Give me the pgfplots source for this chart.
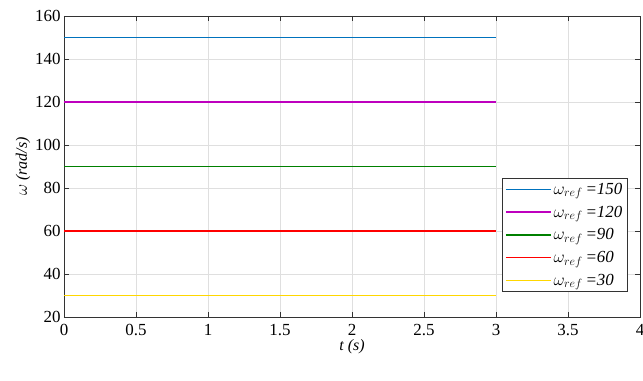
\documentclass[border=0pt]{standalone}
\usepackage{fontspec}
\setmainfont{Liberation Serif}
\usepackage{pgfplots}
\pgfplotsset{compat=1.18}
\definecolor{lblue}{RGB}{0,114,189}
\definecolor{lmag}{RGB}{190,0,190}
\definecolor{lgreen}{RGB}{0,128,0}
\definecolor{lred}{RGB}{255,0,0}
\definecolor{lyel}{RGB}{255,215,0}
\begin{document}
\begin{tikzpicture}
\useasboundingbox (-64bp,-64bp) rectangle (579bp,317bp);
\begin{axis}[
  at={(0,0)}, anchor=origin,
  scale only axis, width=576bp, height=301bp,
  xmin=0, xmax=4, ymin=20, ymax=160,
  xtick={0,0.5,...,4}, ytick={20,40,...,160},
  xticklabels={0,0.5,1,1.5,2,2.5,3,3.5,4},
  /pgf/number format/assume math mode=true,
  tick label style={font=\fontsize{17}{20}\selectfont},
  xticklabel style={yshift=-4bp},
  label style={font=\fontsize{16}{19}\selectfont},
  xlabel={\textit{t (s)}}, ylabel={$\omega$ \textit{(rad/s)}},
  xlabel style={yshift=3bp},
  ylabel style={yshift=-2bp},
  grid=major, major grid style={draw=gray!25, line width=0.6pt},
  axis line style={draw=black!80, line width=0.8pt},
  tick style={draw=black!80, line width=0.8pt},
  tick align=inside, major tick length=5bp,
  legend style={at={(axis cs:3.04,31.6)}, anchor=south west,
    font=\fontsize{17}{20}\selectfont, draw=black!80, line width=0.8pt,
    row sep=6pt, inner sep=3pt},
  legend cell align=left,
  legend image code/.code={\draw[#1, line width=1.5pt] (0bp,0bp) -- (45bp,0bp);},
]
\addplot[color=lblue, line width=1.5pt] coordinates {(0,150) (3,150)};
\addlegendentry{$\omega_{ref}$\,\textit{=150}}
\addplot[color=lmag, line width=1.5pt] coordinates {(0,120) (3,120)};
\addlegendentry{$\omega_{ref}$\,\textit{=120}}
\addplot[color=lgreen, line width=1.5pt] coordinates {(0,90) (3,90)};
\addlegendentry{$\omega_{ref}$\,\textit{=90}}
\addplot[color=lred, line width=1.5pt] coordinates {(0,60) (3,60)};
\addlegendentry{$\omega_{ref}$\,\textit{=60}}
\addplot[color=lyel, line width=1.5pt] coordinates {(0,30) (3,30)};
\addlegendentry{$\omega_{ref}$\,\textit{=30}}
\end{axis}
\end{tikzpicture}
\end{document}
